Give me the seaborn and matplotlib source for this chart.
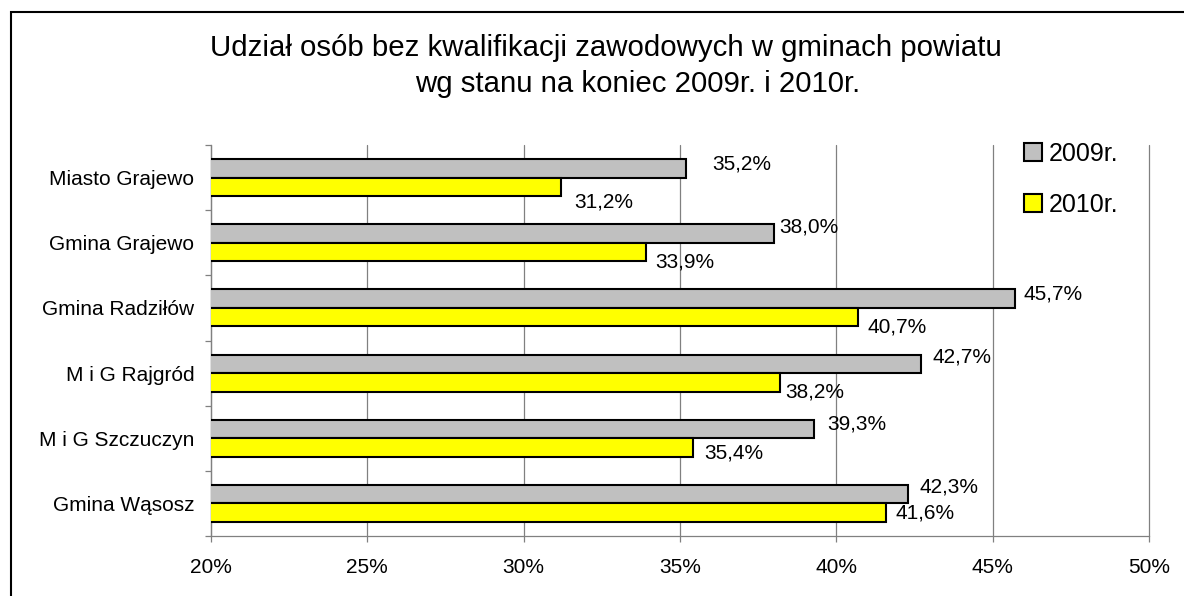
import matplotlib
matplotlib.use("Agg")
import matplotlib.pyplot as plt
import matplotlib.patches as mpatches
import matplotlib.ticker as mticker
import pandas as pd
import seaborn as sns

# ---- data ----
categories = ["Miasto Grajewo", "Gmina Grajewo", "Gmina Radziłów",
              "M i G Rajgród", "M i G Szczuczyn", "Gmina Wąsosz"]
years = ["2009r.", "2010r."]
values_2009 = [35.2, 38.0, 45.7, 42.7, 39.3, 42.3]
values_2010 = [31.2, 33.9, 40.7, 38.2, 35.4, 41.6]
x_ticks = [20, 25, 30, 35, 40, 45, 50]
title_line1 = "Udział osób bez kwalifikacji zawodowych w gminach powiatu"
title_line2 = "wg stanu na koniec 2009r. i 2010r."

# ---- style ----
colors = {"2009r.": "#C0C0C0", "2010r.": "#FFFF00"}
# label offsets in pixels (dx right, dy down) per series
label_offsets = {
    "2009r.": [(26, -4.6), (5.4, -6), (9.4, -4.7), (11.5, -6.6), (13, -5), (11, -7)],
    "2010r.": [(13, 15), (9.3, 9.6), (9, 10), (5.6, 9.2), (11.4, 5.6), (9.6, 0.4)],
}

df = pd.DataFrame({
    "category": categories * 2,
    "year": [years[0]] * len(categories) + [years[1]] * len(categories),
    "value": values_2009 + values_2010,
})

sns.set_theme(style="white")
plt.rcParams["font.family"] = ["Liberation Sans", "DejaVu Sans"]
plt.rcParams["text.color"] = "black"

fig = plt.figure(figsize=(11.84, 5.96), dpi=100)
ax = fig.add_axes([211 / 1184, 1 - 536 / 596, (1149 - 211) / 1184, (536 - 145) / 596])

sns.barplot(data=df, x="value", y="category", hue="year", orient="h",
            order=categories, hue_order=years, palette=colors,
            width=0.57, edgecolor="black", linewidth=1.5, ax=ax,
            legend=False, saturation=1, zorder=3)

ax.set_xlim(x_ticks[0], x_ticks[-1])
ax.set_xticks(x_ticks)
ax.xaxis.set_major_formatter(mticker.FuncFormatter(lambda v, p: f"{v:.0f}%"))
ax.set_xlabel("")
ax.set_ylabel("")

grid_col = "#808080"
ax.grid(axis="x", color=grid_col, linewidth=0.9, zorder=0)
ax.grid(axis="y", visible=False)
ax.set_axisbelow(True)
for gl in ax.get_xgridlines():
    gl.set_clip_on(False)
for s in ["top", "right"]:
    ax.spines[s].set_visible(False)
for s in ["left", "bottom"]:
    ax.spines[s].set_color(grid_col)
    ax.spines[s].set_linewidth(0.9)

ax.tick_params(axis="x", which="major", direction="out", length=4.5, width=0.9,
               color=grid_col, labelsize=15, pad=11.5, bottom=True, labelcolor="black")
ax.tick_params(axis="y", which="major", length=0, labelsize=15, pad=12, labelcolor="black")
ax.set_yticks([i - 0.5 for i in range(len(categories) + 1)], minor=True)
ax.tick_params(axis="y", which="minor", direction="out", length=4.5, width=0.9,
               color=grid_col, left=True)

# data labels
for container, yr in zip(ax.containers, years):
    for bar in container:
        end = bar.get_x() + bar.get_width()
        yc = bar.get_y() + bar.get_height() / 2
        idx = int(round(yc))
        dx, dy = label_offsets[yr][idx]
        txt = f"{bar.get_width():.1f}%".replace(".", ",")
        ax.annotate(txt, xy=(end, yc), xytext=(dx, -dy), textcoords="offset pixels",
                    ha="left", va="center", fontsize=15, color="black", zorder=5,
                    annotation_clip=False)

# legend
handles = [mpatches.Patch(facecolor=colors[y], edgecolor="black", linewidth=1.5, label=y)
           for y in years]
fig.legend(handles=handles, loc="upper left", bbox_to_anchor=(1024 / 1184, 1 - 142 / 596),
           frameon=False, fontsize=18, handlelength=0.72, handleheight=0.72,
           handletextpad=0.25, labelspacing=1.07, borderpad=0, borderaxespad=0,
           labelcolor="black")

# title
fig.text(606 / 1184, 1 - 48 / 596, title_line1, ha="center", va="center",
         fontsize=21.2, color="black")
fig.text(638 / 1184, 1 - 84 / 596, title_line2, ha="center", va="center",
         fontsize=21.2, color="black")

# outer frame
fig.patches.append(mpatches.Rectangle((11 / 1184, -0.1), 1.2, 1.1 - 11.5 / 596,
                                      transform=fig.transFigure, fill=False,
                                      edgecolor="black", linewidth=1.5))

fig.savefig("out.png", dpi=100)
